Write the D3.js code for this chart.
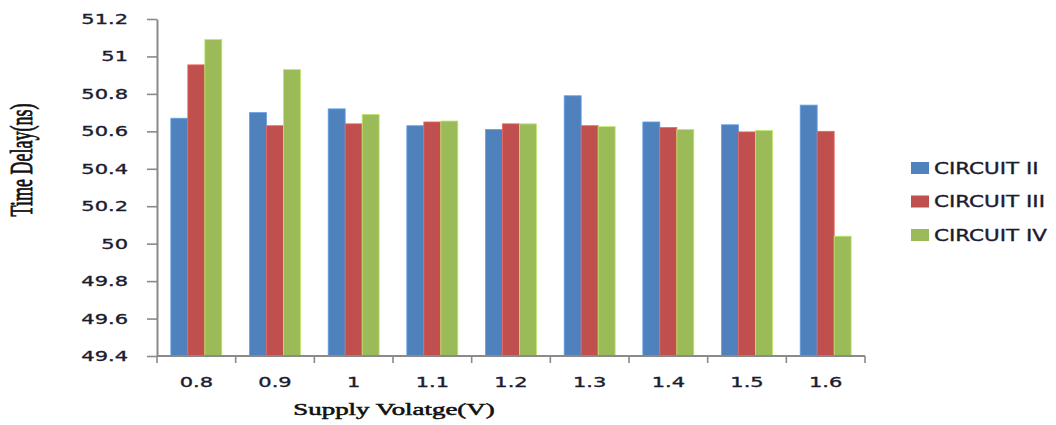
<!DOCTYPE html>
<html>
<head>
<meta charset="utf-8">
<script src="https://cdn.jsdelivr.net/npm/d3@7"></script>
<style>
  html, body { margin: 0; padding: 0; background: #fff; }
  svg { display: block; }
</style>
</head>
<body>
<svg id="chart" width="1056" height="425"></svg>
<script>
// Supply voltage steps on the x axis
const categories = ["0.8", "0.9", "1", "1.1", "1.2", "1.3", "1.4", "1.5", "1.6"];

// Series names
const seriesNames = ["CIRCUIT II", "CIRCUIT III", "CIRCUIT IV"];

// Time delay (ns) per supply voltage
const circuitII  = [50.67, 50.70, 50.72, 50.63, 50.61, 50.79, 50.65, 50.635, 50.74];
const circuitIII = [50.955, 50.63, 50.64, 50.65, 50.64, 50.63, 50.62, 50.597, 50.60];
const circuitIV  = [51.09, 50.93, 50.69, 50.655, 50.64, 50.625, 50.61, 50.604, 50.04];

// Y axis tick labels
const yTicks = [49.4, 49.6, 49.8, 50, 50.2, 50.4, 50.6, 50.8, 51, 51.2];

const seriesColors = ["#4F81BD", "#C0504D", "#9BBB59"];
const seriesValues = [circuitII, circuitIII, circuitIV];

const svg = d3.select("#chart");

const plot = { left: 157, right: 865, top: 19, bottom: 356 };
const axisColor = "#8a8a8a";
const labelColor = "#1c1c30";
const sansFont = "'DejaVu Sans', Verdana, sans-serif";
const serifFont = "'Liberation Serif', 'Times New Roman', serif";
const stretch = 1.5;   // wide lettering used throughout

const x = d3.scaleBand()
  .domain(categories)
  .range([plot.left, plot.right])
  .paddingInner(0.352)
  .paddingOuter(0.176);

const xSeries = d3.scaleBand()
  .domain(seriesNames)
  .range([0, x.bandwidth()]);

const y = d3.scaleLinear()
  .domain([yTicks[0], yTicks[yTicks.length - 1]])
  .range([plot.bottom, plot.top]);

// Bars
const rows = categories.map((c, i) => ({
  cat: c,
  vals: seriesNames.map((s, k) => ({ series: s, value: seriesValues[k][i], color: seriesColors[k] }))
}));

const groups = svg.append("g").selectAll("g")
  .data(rows)
  .join("g")
  .attr("transform", d => `translate(${x(d.cat)},0)`);

groups.selectAll("rect")
  .data(d => d.vals)
  .join("rect")
  .attr("x", d => xSeries(d.series))
  .attr("width", xSeries.bandwidth())
  .attr("y", d => y(d.value))
  .attr("height", d => y.range()[0] - y(d.value))
  .attr("fill", d => d.color)
  .attr("stroke", d => d3.color(d.color).brighter(0.6))
  .attr("stroke-width", 0.8);

// Y axis
const yAxis = svg.append("g")
  .attr("transform", `translate(${plot.left},0)`)
  .call(d3.axisLeft(y).tickValues(yTicks).tickSize(10).tickSizeOuter(0).tickFormat(d => String(+d.toFixed(1))));

yAxis.select(".domain").attr("stroke", axisColor).attr("stroke-width", 2);
yAxis.selectAll(".tick line").attr("stroke", axisColor).attr("stroke-width", 1.6);
yAxis.selectAll(".tick text")
  .attr("x", -29 / stretch)
  .attr("transform", `scale(${stretch},1)`)
  .attr("fill", labelColor)
  .attr("stroke", labelColor)
  .attr("stroke-width", 0.35)
  .style("font-family", sansFont)
  .style("font-size", "14px");

// X axis: baseline, boundary ticks and centred labels
const step = x.step();
const firstEdge = x(categories[0]) - (step - x.bandwidth()) / 2;
const edges = d3.range(categories.length + 1).map(i => firstEdge + i * step);

const xAxis = svg.append("g");
xAxis.append("line")
  .attr("x1", x.range()[0]).attr("x2", x.range()[1])
  .attr("y1", plot.bottom).attr("y2", plot.bottom)
  .attr("stroke", axisColor).attr("stroke-width", 2);
xAxis.selectAll("line.tk")
  .data(edges)
  .join("line")
  .attr("class", "tk")
  .attr("x1", d => d).attr("x2", d => d)
  .attr("y1", plot.bottom).attr("y2", plot.bottom + 7)
  .attr("stroke", axisColor).attr("stroke-width", 1.6);
xAxis.selectAll("text")
  .data(categories)
  .join("text")
  .attr("transform", d => `translate(${x(d) + x.bandwidth() / 2},387) scale(${stretch},1)`)
  .attr("text-anchor", "middle")
  .attr("fill", labelColor)
  .attr("stroke", labelColor)
  .attr("stroke-width", 0.35)
  .style("font-family", sansFont)
  .style("font-size", "14px")
  .text(d => d);

// Axis titles
svg.append("text")
  .attr("transform", `translate(394,415) scale(1.68,1)`)
  .attr("text-anchor", "middle")
  .attr("fill", "#111")
  .attr("stroke", "#111")
  .attr("stroke-width", 0.5)
  .style("font-family", serifFont)
  .style("font-size", "16px")
  .text("Supply Volatge(V)");

svg.append("text")
  .attr("transform", `translate(32,160) scale(1.7,1) rotate(-90)`)
  .attr("text-anchor", "middle")
  .attr("fill", "#111")
  .attr("stroke", "#111")
  .attr("stroke-width", 0.5)
  .style("font-family", serifFont)
  .style("font-size", "18px")
  .text("Time Delay(ns)");

// Legend
const legend = svg.append("g").attr("transform", "translate(911,162)");
const item = legend.selectAll("g")
  .data(seriesNames)
  .join("g")
  .attr("transform", (d, i) => `translate(0,${i * 33.5})`);
item.append("rect")
  .attr("width", 18).attr("height", 12)
  .attr("fill", (d, i) => seriesColors[i]);
item.append("text")
  .attr("transform", "translate(23,11.5) scale(1.43,1)")
  .attr("fill", labelColor)
  .attr("stroke", labelColor)
  .attr("stroke-width", 0.35)
  .style("font-family", sansFont)
  .style("font-size", "15px")
  .text(d => d);
</script>
</body>
</html>
